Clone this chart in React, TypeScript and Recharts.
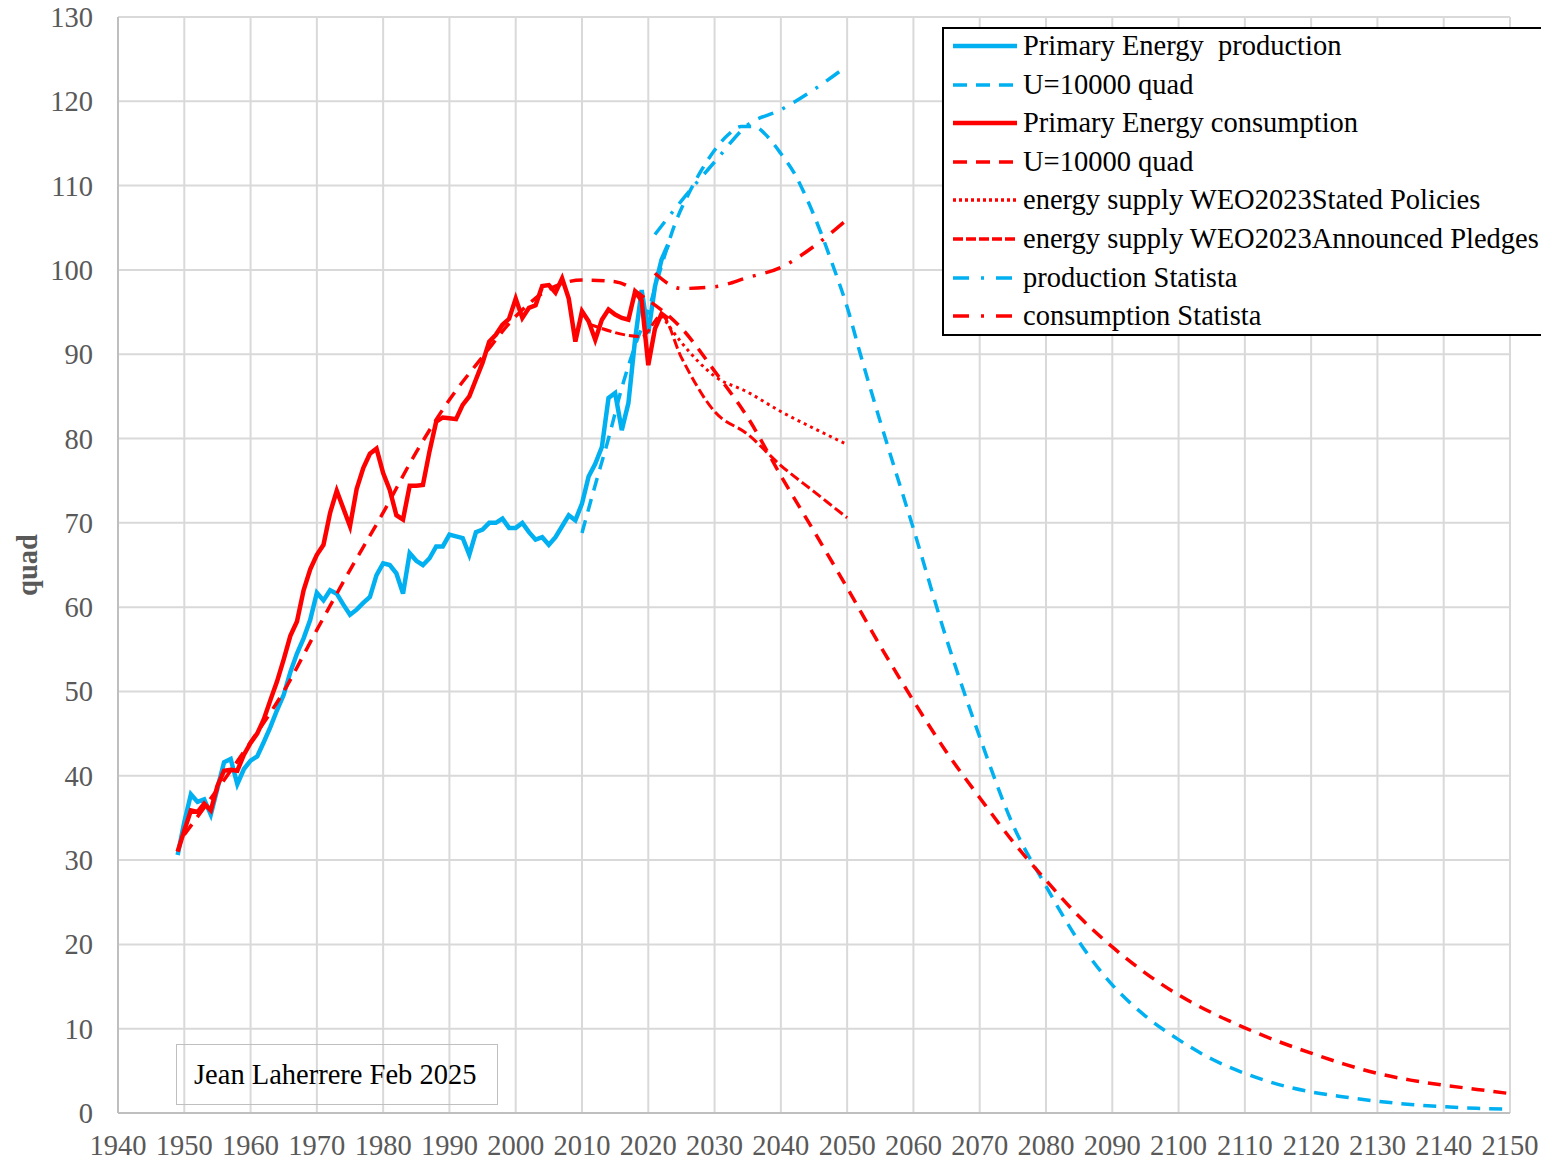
import { LineChart, Line, XAxis, YAxis, CartesianGrid } from 'recharts';

// annual history, 1949..2023 (quad)
const HIST_START = 1949;
const productionHist = [
  30.6, 34.5, 37.8, 36.9, 37.2, 35.4, 38.5, 41.6, 42.0, 39.0,
  40.8, 41.8, 42.3, 44.0, 45.8, 47.8, 49.6, 52.3, 54.5, 56.3,
  58.5, 61.7, 60.8, 62.0, 61.6, 60.3, 59.1, 59.7, 60.5, 61.2,
  63.8, 65.2, 65.0, 64.0, 61.6, 66.4, 65.5, 65.0, 65.8, 67.2,
  67.2, 68.6, 68.4, 68.2, 66.2, 68.9, 69.2, 70.0, 70.0, 70.5,
  69.4, 69.4, 70.0, 68.9, 68.0, 68.3, 67.4, 68.3, 69.6, 70.9,
  70.3, 72.3, 75.5, 77.0, 79.0, 84.8, 85.4, 81.0, 84.2, 91.7,
  97.6, 92.5, 98.0, 101.2, 103.0,
];
const consumptionHist = [
  31.0, 33.5, 35.9, 35.7, 36.7, 35.9, 38.8, 40.6, 40.7, 40.6,
  42.5, 43.9, 45.0, 46.7, 49.0, 51.2, 53.8, 56.6, 58.3, 62.0,
  64.5, 66.2, 67.4, 71.2, 73.8, 71.7, 69.6, 74.0, 76.5, 78.2,
  78.8, 75.9, 73.9, 70.9, 70.4, 74.4, 74.4, 74.5, 78.5, 82.0,
  82.5, 82.4, 82.3, 84.0, 85.0, 87.0, 89.0, 91.5, 92.3, 93.5,
  94.2, 96.6, 94.3, 95.5, 95.8, 98.1, 98.2, 97.3, 99.0, 96.6,
  91.5, 95.1, 93.9, 91.7, 94.1, 95.3, 94.7, 94.3, 94.1, 97.4,
  96.4, 88.7, 93.0, 94.8, 94.2,
];

// U=10000 quad model, production
const prodModelYears = [
  2010, 2012, 2014, 2016, 2018, 2020, 2022, 2024, 2026, 2028, 2030, 2032, 2034, 2036, 2038,
  2040, 2042, 2044, 2046, 2048, 2050, 2052, 2055, 2060, 2065, 2070, 2075, 2080, 2085, 2090,
  2095, 2100, 2105, 2110, 2115, 2120, 2125, 2130, 2135, 2140, 2145, 2150,
];
const prodModelValues = [
  68.8, 74.5, 80.0, 86.0, 91.0, 95.2, 100.5, 105.4, 108.9, 111.8, 114.2, 116.0, 117.0, 117.0, 115.8,
  113.8, 111.5, 108.3, 104.5, 100.2, 95.6, 90.0, 82.0, 69.3, 56.2, 44.6, 34.2, 26.9, 20.3, 15.2,
  11.5, 8.7, 6.4, 4.7, 3.4, 2.5, 1.9, 1.4, 1.0, 0.75, 0.55, 0.45,
];

// U=10000 quad model, consumption
const consModelYears = [
  1950, 1955, 1960, 1965, 1970, 1975, 1980, 1985, 1990, 1995, 2000, 2005, 2010, 2015, 2020,
  2025, 2030, 2035, 2040, 2045, 2050, 2055, 2060, 2065, 2070, 2075, 2080, 2085, 2090, 2095,
  2100, 2105, 2110, 2115, 2120, 2125, 2130, 2135, 2140, 2145, 2150,
];
const consModelValues = [
  33.0, 38.4, 44.0, 50.0, 57.3, 64.4, 71.2, 78.4, 84.6, 89.7, 94.5, 97.7, 98.8, 98.6, 96.4,
  93.1, 88.0, 82.5, 75.6, 69.0, 62.3, 55.4, 48.9, 42.8, 37.4, 32.2, 27.6, 23.3, 19.7, 16.6,
  14.0, 11.9, 10.1, 8.5, 7.1, 5.8, 4.7, 3.9, 3.3, 2.8, 2.3,
];

// WEO2023 energy supply
const statedYears = [2022, 2025, 2030, 2035, 2040, 2045, 2050];
const statedValues = [94.6, 91.4, 87.4, 85.5, 83.2, 81.2, 79.3];
const apsYears = [2011, 2019, 2022, 2025, 2030, 2035, 2040, 2045, 2050];
const apsValues = [93.6, 92.1, 94.6, 89.6, 83.2, 80.5, 76.8, 73.7, 70.6];

// Statista
const statistaProdYears = [2021, 2025, 2030, 2035, 2040, 2045, 2050];
const statistaProdValues = [104.2, 108.2, 112.8, 117.2, 119.0, 121.4, 124.2];
const statistaConsYears = [2021, 2025, 2030, 2035, 2040, 2045, 2050];
const statistaConsValues = [99.6, 97.8, 98.0, 99.1, 100.3, 102.8, 106.0];

const X_TICKS = [
  1940, 1950, 1960, 1970, 1980, 1990, 2000, 2010, 2020, 2030, 2040, 2050,
  2060, 2070, 2080, 2090, 2100, 2110, 2120, 2130, 2140, 2150,
];
const Y_TICKS = [0, 10, 20, 30, 40, 50, 60, 70, 80, 90, 100, 110, 120, 130];

const BLUE = '#00b0f0';
const RED = '#ff0000';
const GREY = '#595959';
const FONT = '"Liberation Serif", "Times New Roman", serif';
const FS = 28.5;

const pts = (years: number[], values: number[]) => years.map((year, i) => ({ year, v: values[i] }));
const hist = (values: number[]) => values.map((v, i) => ({ year: HIST_START + i, v }));

const SERIES = [
  { name: 'Primary Energy  production', data: hist(productionHist), color: BLUE, width: 4.5, dash: undefined, type: 'linear' },
  { name: 'U=10000 quad', data: pts(prodModelYears, prodModelValues), color: BLUE, width: 3.5, dash: '13 9', type: 'monotone' },
  { name: 'Primary Energy consumption', data: hist(consumptionHist), color: RED, width: 4.5, dash: undefined, type: 'linear' },
  { name: 'U=10000 quad', data: pts(consModelYears, consModelValues), color: RED, width: 3.5, dash: '13 9', type: 'monotone' },
  { name: 'energy supply WEO2023Stated Policies', data: pts(statedYears, statedValues), color: RED, width: 3, dash: '3 4', type: 'monotone' },
  { name: 'energy supply WEO2023Announced Pledges', data: pts(apsYears, apsValues), color: RED, width: 3, dash: '10 4', type: 'monotone' },
  { name: 'production Statista', data: pts(statistaProdYears, statistaProdValues), color: BLUE, width: 3.5, dash: '16 10 3 10', type: 'monotone' },
  { name: 'consumption Statista', data: pts(statistaConsYears, statistaConsValues), color: RED, width: 3.5, dash: '16 10 3 10', type: 'monotone' },
];

// legend samples use slightly different dash spacing, like the original
const LEGEND_DASH = [undefined, '14 9', undefined, '14 9', '3 3', '10 3', '16 12 3 12', '16 12 3 12'];

const XTick = ({ x, y, payload }: any) => (
  <text x={x} y={y + 42} textAnchor="middle" fill={GREY} fontSize={FS} fontFamily={FONT}>
    {payload.value}
  </text>
);

const YTick = ({ x, y, payload }: any) => (
  <text x={x} y={y + 10} textAnchor="end" fill={GREY} fontSize={FS} fontFamily={FONT}>
    {payload.value}
  </text>
);

// chart is lifted 6px so the top "130" label is not clipped by the svg edge
export default function App() {
  return (
    <div style={{ position: 'relative', width: 1541, height: 1165, marginTop: -6, fontFamily: FONT }}>
      <LineChart width={1541} height={1165} margin={{ top: 15, right: 39, bottom: 0, left: 0 }}>
        <CartesianGrid stroke="#d9d9d9" strokeWidth={2} />
        <XAxis
          dataKey="year"
          type="number"
          domain={[1940, 2150]}
          ticks={X_TICKS}
          allowDataOverflow
          height={54}
          tickLine={false}
          tickSize={0}
          tickMargin={0}
          axisLine={{ stroke: '#bfbfbf', strokeWidth: 2 }}
          tick={<XTick />}
        />
        <YAxis
          type="number"
          domain={[0, 130]}
          ticks={Y_TICKS}
          width={110}
          tickLine={false}
          tickSize={0}
          tickMargin={25}
          axisLine={{ stroke: '#bfbfbf', strokeWidth: 2 }}
          tick={<YTick />}
          label={{
            value: 'quad',
            angle: -90,
            position: 'insideLeft',
            offset: 19,
            style: { fill: GREY, fontSize: FS, fontWeight: 'bold', fontFamily: FONT, textAnchor: 'middle' },
          }}
        />
        {SERIES.map((s, i) => (
          <Line
            key={i}
            data={s.data}
            dataKey="v"
            type={s.type as any}
            stroke={s.color}
            strokeWidth={s.width}
            strokeDasharray={s.dash}
            dot={false}
            activeDot={false}
            isAnimationActive={false}
          />
        ))}
      </LineChart>

      <div
        style={{
          position: 'absolute',
          left: 934,
          top: 25,
          width: 599,
          height: 305,
          border: '2px solid #000',
          background: '#fff',
        }}
      >
        {SERIES.map((s, i) => (
          <div
            key={i}
            style={{
              position: 'absolute',
              left: 9,
              top: 17 + i * 38.6 - 19,
              height: 38,
              display: 'flex',
              alignItems: 'center',
              whiteSpace: 'pre',
              fontSize: FS,
              color: '#000',
            }}
          >
            <svg width={64} height={10} style={{ marginRight: 6 }}>
              <line
                x1={0}
                y1={5}
                x2={64}
                y2={5}
                stroke={s.color}
                strokeWidth={i === 0 || i === 2 ? 4.5 : 3.5}
                strokeDasharray={LEGEND_DASH[i]}
              />
            </svg>
            <span>{s.name}</span>
          </div>
        ))}
      </div>

      <div
        style={{
          position: 'absolute',
          left: 168,
          top: 1042,
          width: 322,
          height: 61,
          border: '1.5px solid #bfbfbf',
          display: 'flex',
          alignItems: 'center',
          paddingLeft: 17,
          boxSizing: 'border-box',
          fontSize: FS,
          color: '#000',
        }}
      >
        Jean Laherrere Feb 2025
      </div>
    </div>
  );
}
